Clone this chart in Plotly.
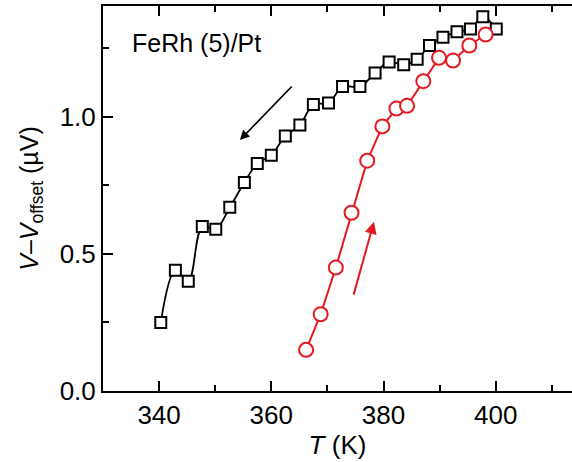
import plotly.graph_objects as go

# cooling branch (black squares)
t_down = [340.3, 342.9, 345.2, 347.7, 350.1, 352.6, 355.2, 357.5, 360.0, 362.5,
          365.1, 367.5, 370.2, 372.7, 375.8, 378.5, 381.0, 383.6, 386.0, 388.2,
          390.6, 393.1, 395.5, 397.7, 400.1]
v_down = [0.25, 0.44, 0.40, 0.60, 0.59, 0.67, 0.76, 0.83, 0.86, 0.93,
          0.97, 1.045, 1.05, 1.11, 1.11, 1.16, 1.20, 1.19, 1.21, 1.26,
          1.29, 1.31, 1.32, 1.365, 1.32]

# heating branch (red circles)
t_up = [366.2, 368.8, 371.5, 374.3, 377.1, 379.8, 382.3, 384.2, 387.1, 389.9,
        392.4, 395.3, 398.2]
v_up = [0.15, 0.28, 0.45, 0.65, 0.84, 0.965, 1.03, 1.04, 1.13, 1.215,
        1.205, 1.26, 1.30]

RED = "rgb(228,26,34)"
FONT = "Arial, Liberation Sans, sans-serif"

fig = go.Figure()
fig.add_trace(go.Scatter(
    x=t_down, y=v_down, mode="lines+markers",
    line=dict(color="black", width=1.8, shape="spline", smoothing=1.0),
    marker=dict(symbol="square", size=11, color="white",
                line=dict(color="black", width=2)),
))
fig.add_trace(go.Scatter(
    x=t_up, y=v_up, mode="lines+markers",
    line=dict(color=RED, width=2),
    marker=dict(symbol="circle", size=14, color="white",
                line=dict(color=RED, width=2)),
))

# direction arrows
fig.add_annotation(x=354.4, y=0.915, ax=363.9, ay=1.116, xref="x", yref="y",
                   axref="x", ayref="y", text="", showarrow=True,
                   arrowhead=2, arrowsize=1.2, arrowwidth=1.6, arrowcolor="black")
fig.add_annotation(x=378.3, y=0.617, ax=374.6, ay=0.346, xref="x", yref="y",
                   axref="x", ayref="y", text="", showarrow=True,
                   arrowhead=2, arrowsize=1.2, arrowwidth=2, arrowcolor=RED)

# sample label, position given in pixels -> paper coords
fig.add_annotation(x=(130 - 103) / 469, y=(390.7 - 43) / 384.7,
                   xref="paper", yref="paper", text="FeRh (5)/Pt",
                   showarrow=False, xanchor="left", yanchor="middle",
                   font=dict(size=25, color="black", family=FONT))

fig.update_xaxes(
    range=[330, 413.6], showline=True, linecolor="black", linewidth=2,
    mirror="ticks", ticks="inside", ticklen=10, tickwidth=2, tickcolor="black",
    tickvals=[340, 360, 380, 400], showgrid=False, zeroline=False,
    minor=dict(ticks="inside", ticklen=6, tickwidth=2, tickcolor="black",
               tickvals=[350, 370, 390, 410], showgrid=False),
    tickfont=dict(size=26, color="black", family=FONT),
    title=dict(text="<i>T</i> (K)", font=dict(size=26, color="black", family=FONT),
               standoff=0),
)
fig.update_yaxes(
    range=[0, 1.404], showline=True, linecolor="black", linewidth=2,
    ticks="inside", ticklen=10, tickwidth=2, tickcolor="black",
    tickvals=[0, 0.5, 1.0], ticktext=["0.0", "0.5", "1.0"],
    showgrid=False, zeroline=False,
    minor=dict(ticks="inside", ticklen=6, tickwidth=2, tickcolor="black",
               tickvals=[0.25, 0.75, 1.25], showgrid=False),
    tickfont=dict(size=26, color="black", family=FONT),
    title=dict(text="<i>V</i>\u2013<i>V</i><sub>offset</sub> (\u00b5V)",
               font=dict(size=25, color="black", family=FONT), standoff=14),
)

fig.update_layout(
    width=572, height=462, showlegend=False,
    plot_bgcolor="white", paper_bgcolor="white",
    margin=dict(l=103, r=0, t=6, b=71, autoexpand=False),
    font=dict(family=FONT, color="black"),
)

# drop the default page margin so the figure sits at the window corner
fig.write_html("out.html", config={"displayModeBar": False},
               post_script="document.body.style.margin='0';document.body.style.overflow='hidden';")
